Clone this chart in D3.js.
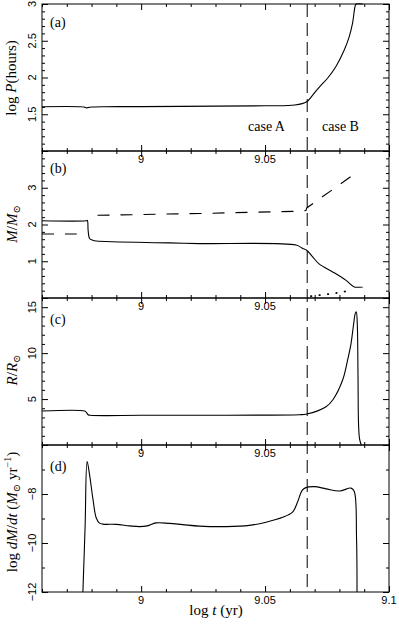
<!DOCTYPE html>
<html>
<head>
<meta charset="utf-8">
<script src="https://cdn.jsdelivr.net/npm/d3@7"></script>
<style>
  body { margin: 0; background: #fff; }
  svg { display: block; }
  text { font-family: "Liberation Serif", "DejaVu Serif", serif; fill: #000; }
  .tick-lbl { font-family: "Liberation Sans", "DejaVu Sans", sans-serif; font-size: 11px; }
</style>
</head>
<body>
<div id="chart"></div>
<script>
// x axis (log t)
const tDomain = [8.96, 9.1];
const tMajor = [9, 9.05, 9.1];
const tLabels = ['9', '9.05'];
const tLabelsBottom = ['9', '9.05', '9.1'];
const caseSplit = 9.067;

// (a) log P
const tP = [8.96, 8.975, 8.977, 8.978, 8.9785, 8.980, 8.985, 9.0, 9.03, 9.05, 9.062, 9.0668, 9.0692, 9.0719, 9.0752, 9.0786, 9.0819, 9.0840, 9.0853, 9.0864, 9.0868, 9.0894];
const logP = [1.603, 1.603, 1.598, 1.585, 1.59, 1.598, 1.603, 1.604, 1.61, 1.615, 1.625, 1.67, 1.76, 1.87, 1.99, 2.15, 2.37, 2.56, 2.74, 2.98, 3.0, 3.0];

// (b) masses: donor (solid), accretor (dashed, two pieces), third curve (dotted)
const tM1 = [8.96, 8.9778, 8.9783, 8.9786, 8.9792, 8.9805, 8.9819, 9.0114, 9.0235, 9.0625, 9.0652, 9.0668, 9.0692, 9.0719, 9.0773, 9.0827, 9.086, 9.0894];
const m1 = [2.10, 2.10, 2.11, 1.85, 1.62, 1.57, 1.55, 1.50, 1.48, 1.44, 1.35, 1.30, 1.12, 0.92, 0.71, 0.48, 0.30, 0.30];
const tM2a = [8.96, 8.974];
const m2a = [1.74, 1.74];
const tM2b = [8.9824, 9.0235, 9.0625, 9.0665, 9.0668, 9.0862];
const m2b = [2.25, 2.30, 2.36, 2.38, 2.45, 3.38];
const tM3 = [9.0685, 9.0775, 9.0851];
const m3 = [0.05, 0.12, 0.21];

// (c) radius
const tR = [8.96, 8.9772, 8.9779, 8.9786, 8.9795, 9.0, 9.0235, 9.0638, 9.0668, 9.0746, 9.0773, 9.0813, 9.0833, 9.0847, 9.0856, 9.0864, 9.0868, 9.0872, 9.0875, 9.0877, 9.0881, 9.0888];
const rad = [3.70, 3.70, 3.55, 3.30, 3.23, 3.23, 3.24, 3.30, 3.37, 4.17, 4.90, 7.07, 9.25, 11.07, 12.9, 14.33, 14.5, 13.2, 7.4, 2.4, 0.7, 0.0];

// (d) log dM/dt
const tMd = [8.9765, 8.9774, 8.9782, 8.9792, 8.9805, 8.9819, 8.9832, 8.9845, 8.9899, 8.9953, 8.9993, 9.0025, 9.006, 9.0114, 9.0168, 9.0235, 9.0343, 9.0437, 9.0504, 9.0571, 9.0611, 9.0631, 9.0649, 9.0662, 9.0699, 9.0746, 9.08, 9.0847, 9.086, 9.0869, 9.0871];
const mDot = [-12, -9.3, -6.68, -7.22, -8.17, -8.98, -9.19, -9.23, -9.24, -9.30, -9.33, -9.30, -9.18, -9.20, -9.25, -9.31, -9.33, -9.28, -9.15, -8.95, -8.74, -8.33, -7.86, -7.75, -7.70, -7.79, -7.88, -7.76, -7.90, -9.8, -12];

// y ticks
const yLabA = [1.5, 2, 2.5, 3];
const yLabB = [1, 2, 3];
const yLabC = [5, 10, 15];
const yLabD = [-12, -10, -8];

const W = 399, H = 627;
const left = 42, right = 389, ph = 147;

const svg = d3.select('#chart').append('svg')
    .attr('width', W).attr('height', H);

const x = d3.scaleLinear().domain(tDomain).range([left, right]);

const panels = [
    { top: 4, domain: [1, 3], minor: 0.1, major: 0.5, labels: yLabA, tag: '(a)', tagDy: 23 },
    { top: 151, domain: [0, 4], minor: 0.2, major: 1, labels: yLabB, tag: '(b)', tagDy: 22 },
    { top: 298, domain: [0, 16], minor: 1, major: 5, labels: yLabC, tag: '(c)', tagDy: 26 },
    { top: 445, domain: [-12, -6], minor: 1, major: 2, labels: yLabD, tag: '(d)', tagDy: 26 }
];

const tMinor = d3.range(896, 911).map(d => d / 100);

function stepRange(lo, hi, step) {
    const n = Math.round((hi - lo) / step);
    return d3.range(n + 1).map(i => +(lo + i * step).toFixed(6));
}

panels.forEach((p, i) => {
    const bottom = p.top + ph;
    p.y = d3.scaleLinear().domain(p.domain).range([bottom, p.top]);
    const g = svg.append('g');

    // frame
    g.append('rect')
        .attr('x', left).attr('y', p.top)
        .attr('width', right - left).attr('height', ph)
        .attr('fill', 'none').attr('stroke', '#000').attr('stroke-width', 1);

    // x ticks, inward on top and bottom
    const addX = (axisFn, ypos, vals, size) => {
        g.append('g')
            .attr('transform', `translate(0,${ypos})`)
            .call(axisFn(x).tickValues(vals).tickSize(size).tickFormat(''))
            .call(a => a.select('.domain').remove())
            .call(a => a.selectAll('line').attr('stroke', '#000'));
    };
    const minorX = tMinor.filter(v => !tMajor.some(m => Math.abs(m - v) < 1e-6));
    addX(d3.axisBottom, bottom, minorX, -3);
    addX(d3.axisBottom, bottom, tMajor, -6);
    addX(d3.axisTop, p.top, minorX, -3);
    addX(d3.axisTop, p.top, tMajor, -6);

    // y ticks, inward on left and right
    const addY = (axisFn, xpos, vals, size) => {
        g.append('g')
            .attr('transform', `translate(${xpos},0)`)
            .call(axisFn(p.y).tickValues(vals).tickSize(size).tickFormat(''))
            .call(a => a.select('.domain').remove())
            .call(a => a.selectAll('line').attr('stroke', '#000'));
    };
    const majY = stepRange(p.domain[0], p.domain[1], p.major);
    const minY = stepRange(p.domain[0], p.domain[1], p.minor)
        .filter(v => !majY.some(m => Math.abs(m - v) < 1e-6));
    addY(d3.axisLeft, left, minY, -3);
    addY(d3.axisLeft, left, majY, -6);
    addY(d3.axisRight, right, minY, -3);
    addY(d3.axisRight, right, majY, -6);

    // y tick labels, rotated
    p.labels.forEach(v => {
        g.append('text')
            .attr('class', 'tick-lbl')
            .attr('transform', `translate(36,${p.y(v)}) rotate(-90)`)
            .attr('text-anchor', 'middle')
            .text(d3.format('')(v).replace('-', '\u2212'));
    });

    // x tick labels under each panel
    const labs = i === 3 ? tLabelsBottom : tLabels;
    labs.forEach(s => {
        g.append('text')
            .attr('class', 'tick-lbl')
            .attr('x', x(+s)).attr('y', bottom + 12)
            .attr('text-anchor', 'middle')
            .text(s);
    });

    // panel tag
    g.append('text')
        .attr('x', 50).attr('y', p.top + p.tagDy)
        .attr('font-size', 14)
        .text(p.tag);
});

// vertical dashed line separating case A / case B
svg.append('line')
    .attr('x1', x(caseSplit)).attr('x2', x(caseSplit))
    .attr('y1', panels[0].top).attr('y2', panels[3].top + ph)
    .attr('stroke', '#000').attr('stroke-width', 1)
    .attr('stroke-dasharray', '13,6');

function drawLine(p, ts, vs, opts) {
    opts = opts || {};
    const line = d3.line()
        .x(d => x(d[0]))
        .y(d => p.y(d[1]))
        .curve(opts.linear ? d3.curveLinear : d3.curveCatmullRom.alpha(0.5));
    svg.append('path')
        .datum(d3.zip(ts, vs))
        .attr('d', line)
        .attr('fill', 'none')
        .attr('stroke', '#000')
        .attr('stroke-width', opts.width || 1.1)
        .attr('stroke-linecap', opts.round ? 'round' : 'butt')
        .attr('stroke-dasharray', opts.dash || null);
}

drawLine(panels[0], tP, logP);
drawLine(panels[1], tM1, m1);
drawLine(panels[1], tM2a, m2a, { dash: '12,11', linear: true });
drawLine(panels[1], tM2b, m2b, { dash: '12,11', linear: true });
drawLine(panels[1], tM3, m3, { dash: '0.5,8', linear: true, width: 1.8, round: true });
drawLine(panels[2], tR, rad);
drawLine(panels[3], tMd, mDot);

// case labels
svg.append('text').attr('x', 248).attr('y', 131).attr('font-size', 14).text('case A');
svg.append('text').attr('x', 322).attr('y', 131).attr('font-size', 14).text('case B');

// y axis titles
function yTitle(yc, parts, bx) {
    const t = svg.append('text')
        .attr('transform', `translate(${bx || 16},${yc}) rotate(-90)`)
        .attr('text-anchor', 'middle')
        .attr('font-size', 15);
    parts.forEach(pt => {
        const s = t.append('tspan').text(pt.s);
        if (pt.it) s.attr('font-style', 'italic');
        if (pt.dy) s.attr('dy', pt.dy);
        if (pt.fs) s.attr('font-size', pt.fs);
    });
}

yTitle(78, [{ s: 'log ' }, { s: 'P', it: true }, { s: '(hours)' }]);
yTitle(224, [{ s: 'M', it: true }, { s: '/' }, { s: 'M', it: true }, { s: '\u2299', fs: 10, dy: 3 }], 17);
yTitle(370, [{ s: 'R', it: true }, { s: '/' }, { s: 'R', it: true }, { s: '\u2299', fs: 10, dy: 3 }], 17);
yTitle(512, [{ s: 'log ' }, { s: 'dM', it: true }, { s: '/' }, { s: 'dt', it: true }, { s: ' (' },
    { s: 'M', it: true }, { s: '\u2299', fs: 10, dy: 3 }, { s: ' yr', dy: -3 }, { s: '\u22121', fs: 10, dy: -6 }, { s: ')', dy: 6 }], 17);

// x axis title
const xt = svg.append('text')
    .attr('x', 216).attr('y', 615)
    .attr('text-anchor', 'middle')
    .attr('font-size', 15);
xt.append('tspan').text('log ');
xt.append('tspan').attr('font-style', 'italic').text('t');
xt.append('tspan').text(' (yr)');
</script>
</body>
</html>
